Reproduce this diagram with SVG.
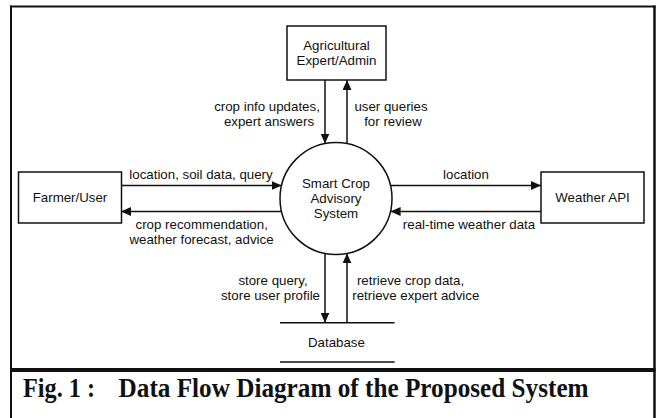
<svg xmlns="http://www.w3.org/2000/svg" width="657" height="418" viewBox="0 0 657 418">
  <style>
    .box { fill: #fff; stroke: #111; stroke-width: 1.5; }
    .lbl { font-family: "Liberation Sans", Arial, sans-serif; font-size: 13.3px; fill: #111; text-anchor: middle; }
    .flow { fill: none; stroke: #111; stroke-width: 1.5; }
    .frame { fill: none; stroke: #111; }
    .cap { font-family: "Liberation Serif", "Times New Roman", serif; font-weight: bold; font-size: 27px; fill: #111; }
  </style>
  <defs>
    <marker id="arrow" viewBox="0 0 10 9" refX="10" refY="4.5" markerWidth="10" markerHeight="9" markerUnits="userSpaceOnUse" orient="auto">
      <path d="M0,0 L10,4.5 L0,9 z" fill="#111"/>
    </marker>
  </defs>

  <rect width="657" height="418" fill="#fff"/>

  <!-- outer frame and caption divider -->
  <g id="frame">
    <line class="frame" x1="10" y1="6.5" x2="655.5" y2="6.5" stroke-width="2"/>
    <line class="frame" x1="11" y1="5.5" x2="11" y2="418" stroke-width="2"/>
    <line class="frame" x1="654.5" y1="5.5" x2="654.5" y2="418" stroke-width="2.5"/>
    <line class="frame" x1="10" y1="370" x2="655.5" y2="370" stroke-width="4"/>
  </g>

  <!-- data flows -->
  <g id="connectors">
    <!-- expert <-> system -->
    <line class="flow" x1="325" y1="80" x2="325" y2="143.6" marker-end="url(#arrow)"/>
    <line class="flow" x1="347" y1="143.6" x2="347" y2="80" marker-end="url(#arrow)"/>
    <!-- farmer <-> system -->
    <line class="flow" x1="121" y1="185.5" x2="281.7" y2="185.5" marker-end="url(#arrow)"/>
    <line class="flow" x1="281.4" y1="211.5" x2="121" y2="211.5" marker-end="url(#arrow)"/>
    <!-- system <-> weather -->
    <line class="flow" x1="390.4" y1="185.5" x2="541" y2="185.5" marker-end="url(#arrow)"/>
    <line class="flow" x1="541" y1="211.5" x2="390.6" y2="211.5" marker-end="url(#arrow)"/>
    <!-- system <-> database -->
    <line class="flow" x1="325" y1="253.4" x2="325" y2="322.7" marker-end="url(#arrow)"/>
    <line class="flow" x1="347" y1="322.7" x2="347" y2="253.4" marker-end="url(#arrow)"/>

    <text class="lbl" x="267" y="111">crop info updates,</text>
    <text class="lbl" x="269" y="126">expert answers</text>
    <text class="lbl" x="391" y="111">user queries</text>
    <text class="lbl" x="393" y="126">for review</text>

    <text class="lbl" x="201" y="178.5">location, soil data, query</text>
    <text class="lbl" x="201.7" y="228.5">crop recommendation,</text>
    <text class="lbl" x="201.5" y="243.5">weather forecast, advice</text>

    <text class="lbl" x="466" y="178.5">location</text>
    <text class="lbl" x="469" y="228.5">real-time weather data</text>

    <text class="lbl" x="273" y="285">store query,</text>
    <text class="lbl" x="270.5" y="300">store user profile</text>
    <text class="lbl" x="410.5" y="285">retrieve crop data,</text>
    <text class="lbl" x="415.8" y="300">retrieve expert advice</text>
  </g>

  <g id="expert">
    <rect class="box" x="287" y="26" width="99" height="54"/>
    <text class="lbl" x="336.5" y="49.5">Agricultural</text>
    <text class="lbl" x="336.5" y="64.5">Expert/Admin</text>
  </g>

  <g id="farmer">
    <rect class="box" x="18.5" y="172" width="103" height="51"/>
    <text class="lbl" x="70" y="201.5">Farmer/User</text>
  </g>

  <g id="weather">
    <rect class="box" x="541" y="172" width="103" height="51"/>
    <text class="lbl" x="592.5" y="201.5">Weather API</text>
  </g>

  <g id="system">
    <circle cx="336" cy="198.5" r="56" fill="#fff" stroke="#111" stroke-width="1.5"/>
    <text class="lbl" x="336" y="187.5">Smart Crop</text>
    <text class="lbl" x="336" y="202.5">Advisory</text>
    <text class="lbl" x="336" y="217.5">System</text>
  </g>

  <g id="database">
    <line class="flow" x1="280" y1="322.7" x2="394.6" y2="322.7"/>
    <line class="flow" x1="280" y1="362" x2="394.6" y2="362"/>
    <text class="lbl" x="336.4" y="347">Database</text>
  </g>

  <!-- figure caption -->
  <g id="caption">
    <text class="cap" x="23" y="397" textLength="72" lengthAdjust="spacingAndGlyphs">Fig. 1 :</text>
    <text class="cap" x="118.6" y="397" textLength="470" lengthAdjust="spacingAndGlyphs">Data Flow Diagram of the Proposed System</text>
  </g>
</svg>
